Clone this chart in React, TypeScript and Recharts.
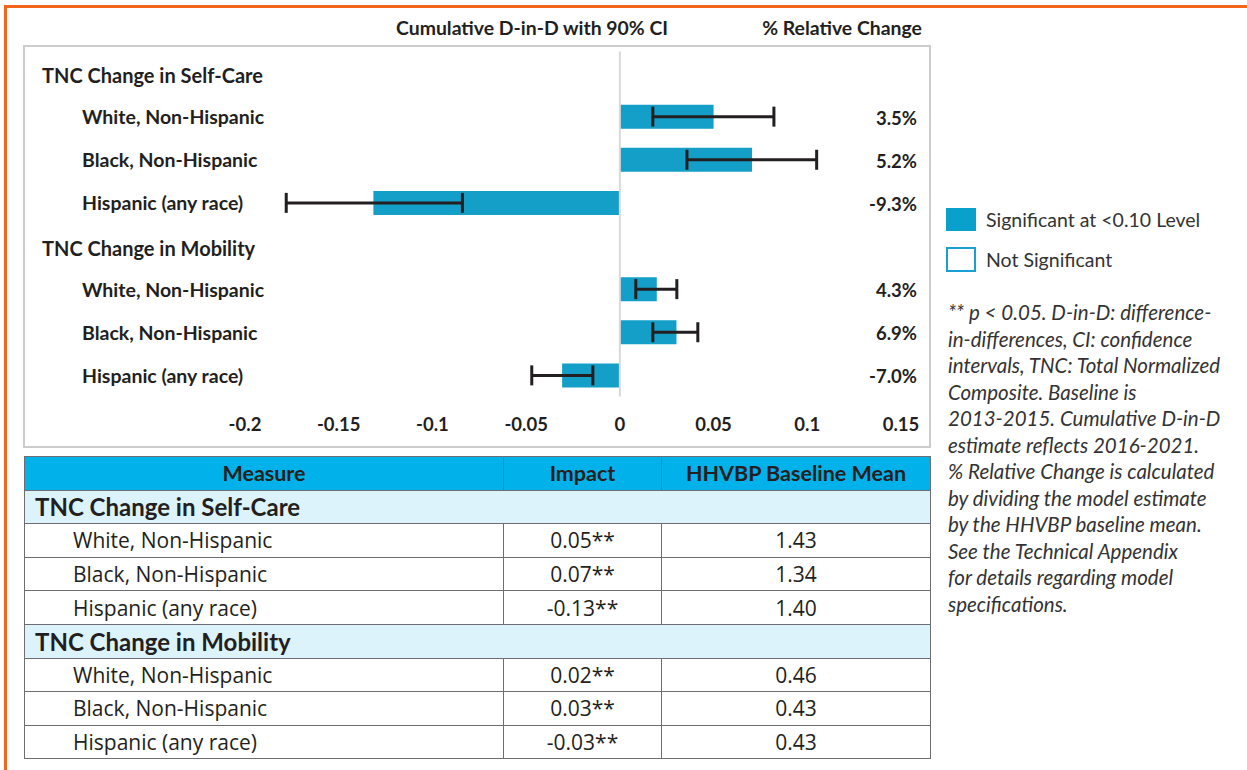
import { BarChart, Bar, XAxis, YAxis, ErrorBar, ReferenceLine } from "recharts";

const groups = ["TNC Change in Self-Care", "TNC Change in Mobility"];
const subgroups = ["White, Non-Hispanic", "Black, Non-Hispanic", "Hispanic (any race)"];
// cumulative D-in-D estimate and 90% CI, per group
const estimates = [
  [0.05, 0.0705, -0.1315],
  [0.0197, 0.0302, -0.0308],
];
const ciLow = [
  [0.0176, 0.0358, -0.178],
  [0.0085, 0.0176, -0.047],
];
const ciHigh = [
  [0.0822, 0.105, -0.084],
  [0.0304, 0.0416, -0.0144],
];
const relChange = [
  ["3.5%", "5.2%", "-9.3%"],
  ["4.3%", "6.9%", "-7.0%"],
];
const impactText = [
  ["0.05**", "0.07**", "-0.13**"],
  ["0.02**", "0.03**", "-0.03**"],
];
const baselineMean = [
  ["1.43", "1.34", "1.40"],
  ["0.46", "0.43", "0.43"],
];
const xTicks = [-0.2, -0.15, -0.1, -0.05, 0, 0.05, 0.1, 0.15];

const footnote = [
  "** p < 0.05. D-in-D: difference-",
  "in-differences, CI: confidence",
  "intervals, TNC: Total Normalized",
  "Composite. Baseline is",
  "2013-2015. Cumulative D-in-D",
  "estimate reflects 2016-2021.",
  "% Relative Change is calculated",
  "by dividing the model estimate",
  "by the HHVBP baseline mean.",
  "See the Technical Appendix",
  "for details regarding model",
  "specifications.",
];

interface Row {
  id: string;
  label: string;
  header: boolean;
  value: number | null;
  err?: [number, number];
  pct: string;
}

const rows: Row[] = [];
groups.forEach((g, gi) => {
  rows.push({ id: `g${gi}`, label: g, header: true, value: null, pct: "" });
  subgroups.forEach((s, si) => {
    const v = estimates[gi][si];
    rows.push({
      id: `g${gi}s${si}`,
      label: s,
      header: false,
      value: v,
      err: [v - ciLow[gi][si], ciHigh[gi][si] - v],
      pct: relChange[gi][si],
    });
  });
});

const FONT = "Lato, 'Open Sans', sans-serif";
const TABLE_FONT = "'Open Sans', Lato, sans-serif";
const TEXT = "#231f20";
const BAR = "#149fc8";
const ORANGE = "#f4661b";

const CHART_W = 940;
const CHART_H = 450;
const PLOT_LEFT = 245;
const PLOT_RIGHT = 901;
const PLOT_TOP = 51.5;
const PLOT_BOTTOM = 396.5;

function LeftTick(props: any) {
  const row = rows[props.index];
  if (!row) return null;
  return (
    <text
      x={props.x - (row.header ? 203 : 163)}
      y={props.y + (row.header ? 3 : 1)}
      dy="0.35em"
      textAnchor="start"
      fontFamily={FONT}
      fontWeight={700}
      fontSize={row.header ? 20 : 19.5}
      fill={TEXT}
    >
      {row.label}
    </text>
  );
}

function RightTick(props: any) {
  const row = rows[props.index];
  if (!row || !row.pct) return null;
  return (
    <text
      x={props.x}
      y={props.y + 2}
      dy="0.35em"
      textAnchor="end"
      fontFamily={FONT}
      fontWeight={700}
      fontSize={18.5}
      fill={TEXT}
    >
      {row.pct}
    </text>
  );
}

export default function App() {
  const cell: React.CSSProperties = {
    border: "1.5px solid #6d6e71",
    padding: 0,
    height: 32.6,
    fontSize: 21,
    color: TEXT,
    fontFamily: TABLE_FONT,
  };
  const headCell: React.CSSProperties = {
    ...cell,
    fontFamily: FONT,
    fontWeight: 700,
    fontSize: 21.5,
    textAlign: "center",
  };
  return (
    <div
      style={{
        position: "absolute",
        left: 0,
        top: 0,
        width: 1247,
        height: 770,
        background: "#fff",
        fontFamily: FONT,
        overflow: "hidden",
      }}
    >
      {/* orange frame */}
      <div style={{ position: "absolute", left: 4, top: 5, width: 1243, height: 3, background: ORANGE }} />
      <div style={{ position: "absolute", left: 4, top: 5, width: 3, height: 765, background: ORANGE }} />

      {/* column titles */}
      <div style={{ position: "absolute", left: 332, width: 400, top: 16, textAlign: "center", fontWeight: 700, fontSize: 19.4, color: TEXT }}>
        Cumulative D-in-D with 90% CI
      </div>
      <div style={{ position: "absolute", left: 742, width: 200, top: 16, textAlign: "center", fontWeight: 700, fontSize: 19.4, color: TEXT }}>
        % Relative Change
      </div>

      {/* chart frame */}
      <div
        style={{
          position: "absolute",
          left: 23,
          top: 45,
          width: 904,
          height: 399,
          border: "2px solid #cccccc",
        }}
      />

      <div style={{ position: "absolute", left: 0, top: 0 }}>
        <BarChart
          width={CHART_W}
          height={CHART_H}
          data={rows}
          layout="vertical"
          barSize={24}
          margin={{
            top: PLOT_TOP,
            bottom: CHART_H - PLOT_BOTTOM - 30,
            left: PLOT_LEFT - 203,
            right: CHART_W - PLOT_RIGHT - 30,
          }}
        >
          <XAxis
            type="number"
            domain={[-0.2, 0.15]}
            ticks={xTicks}
            axisLine={false}
            tickLine={false}
            tickMargin={15}
            height={30}
            tick={{ fontFamily: FONT, fontWeight: 700, fontSize: 18.5, fill: TEXT }}
            interval={0}
            allowDataOverflow
          />
          <YAxis
            yAxisId="left"
            type="category"
            dataKey="id"
            width={203}
            axisLine={false}
            tickLine={false}
            tickSize={0}
            tickMargin={0}
            interval={0}
            tick={<LeftTick />}
          />
          <YAxis
            yAxisId="right"
            orientation="right"
            type="category"
            dataKey="id"
            width={30}
            axisLine={false}
            tickLine={false}
            tickSize={0}
            tickMargin={16}
            interval={0}
            tick={<RightTick />}
          />
          <ReferenceLine yAxisId="left" x={0} stroke="#d9d9d9" strokeWidth={2} />
          <Bar yAxisId="left" dataKey="value" fill={BAR} isAnimationActive={false}>
            <ErrorBar dataKey="err" direction="x" width={10} stroke="#231f20" strokeWidth={3} />
          </Bar>
        </BarChart>
      </div>

      {/* legend */}
      <div style={{ position: "absolute", left: 946, top: 208, width: 30, height: 23, background: "#0aa0cc" }} />
      <div style={{ position: "absolute", left: 986, top: 207, fontSize: 19.5, color: "#333", lineHeight: "26px" }}>
        Significant at &lt;0.10 Level
      </div>
      <div
        style={{
          position: "absolute",
          left: 946,
          top: 247,
          width: 26,
          height: 21,
          border: "2px solid #1aa0d0",
        }}
      />
      <div style={{ position: "absolute", left: 986, top: 247, fontSize: 19.5, color: "#333", lineHeight: "26px" }}>
        Not Significant
      </div>

      {/* footnote */}
      <div
        style={{
          position: "absolute",
          left: 948,
          top: 299,
          fontSize: 20.5,
          fontStyle: "italic",
          color: "#333",
          lineHeight: "26.5px",
          whiteSpace: "nowrap",
        }}
      >
        {footnote.map((l, i) => (
          <div key={i}>{l}</div>
        ))}
      </div>

      {/* table */}
      <table
        style={{
          position: "absolute",
          left: 24,
          top: 456,
          width: 906,
          borderCollapse: "collapse",
          tableLayout: "fixed",
        }}
      >
        <colgroup>
          <col style={{ width: 479 }} />
          <col style={{ width: 158 }} />
          <col style={{ width: 269 }} />
        </colgroup>
        <tbody>
          <tr style={{ background: "#00b1ea" }}>
            <td style={headCell}>Measure</td>
            <td style={headCell}>Impact</td>
            <td style={headCell}>HHVBP Baseline Mean</td>
          </tr>
          {groups.map((g, gi) => [
            <tr key={`h${gi}`} style={{ background: "#dcf3fc" }}>
              <td colSpan={3} style={{ ...headCell, textAlign: "left", paddingLeft: 10, fontSize: 24 }}>
                {g}
              </td>
            </tr>,
            ...subgroups.map((s, si) => (
              <tr key={`r${gi}${si}`}>
                <td style={{ ...cell, paddingLeft: 48 }}>{s}</td>
                <td style={{ ...cell, textAlign: "center" }}>{impactText[gi][si]}</td>
                <td style={{ ...cell, textAlign: "center" }}>{baselineMean[gi][si]}</td>
              </tr>
            )),
          ])}
        </tbody>
      </table>
    </div>
  );
}
